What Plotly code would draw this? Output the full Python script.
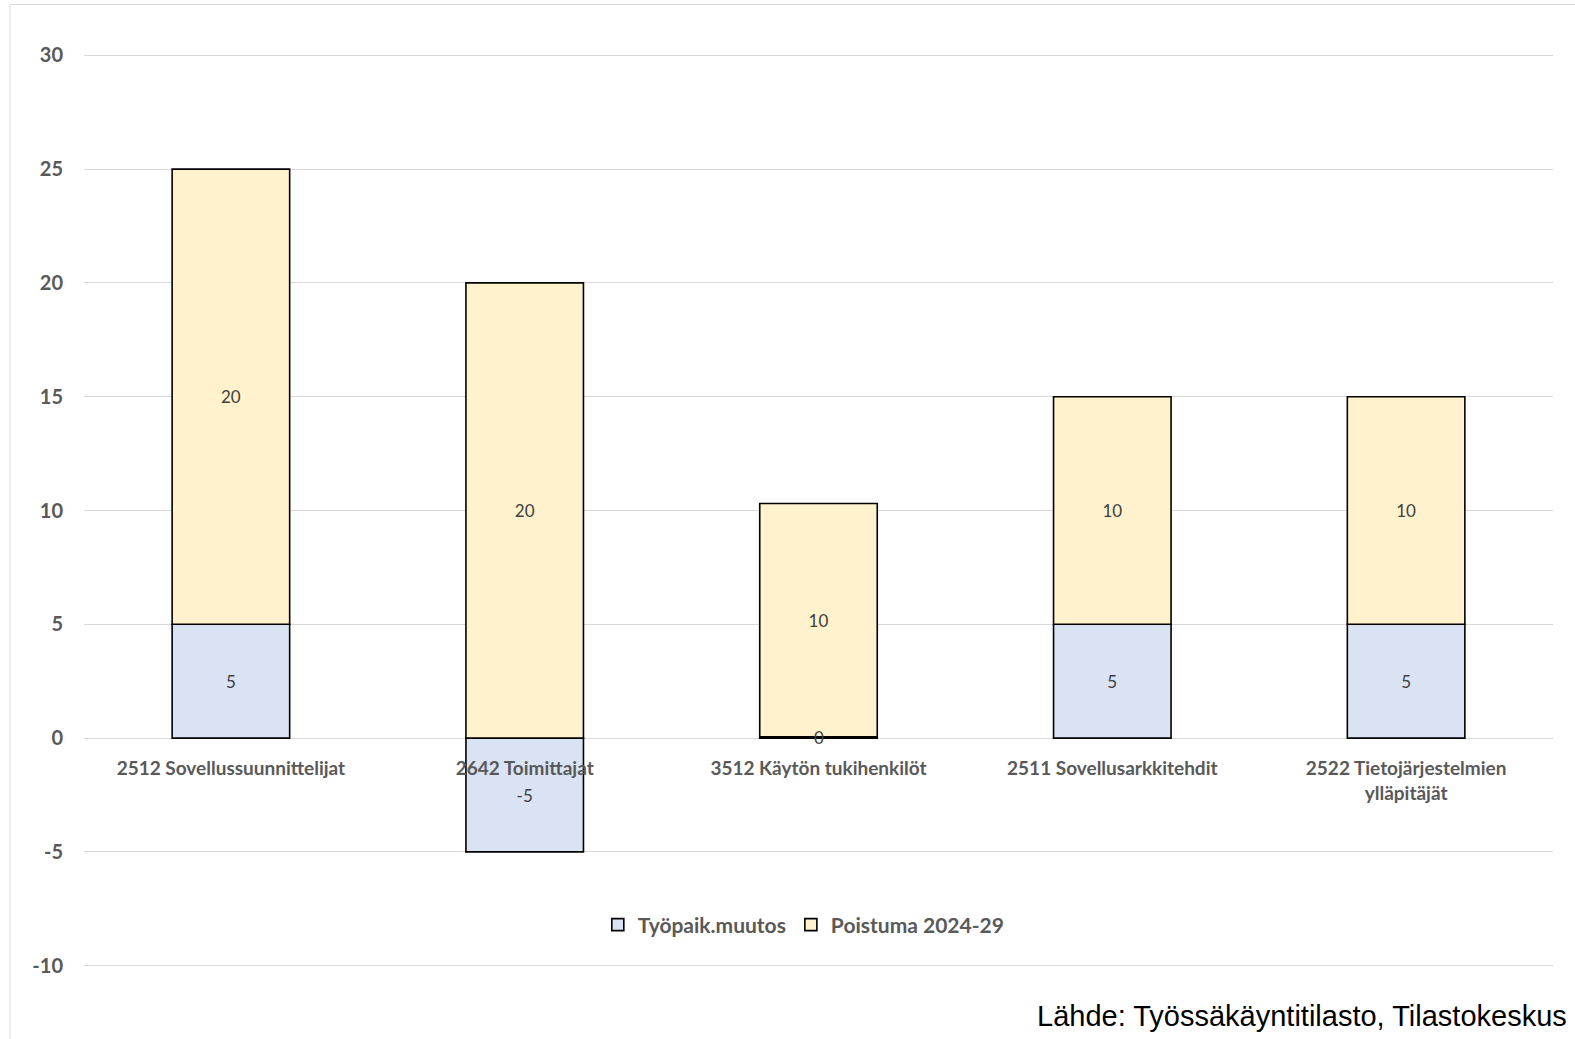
import plotly.graph_objects as go

ammatit = [
    "2512 Sovellussuunnittelijat",
    "2642 Toimittajat",
    "3512 Käytön tukihenkilöt",
    "2511 Sovellusarkkitehdit",
    "2522 Tietojärjestelmien<br>ylläpitäjät",
]
tyopaik_muutos = [5, -5, 0.06, 5, 5]
poistuma = [20, 20, 10.25, 10, 10]
y_ticks = [-10, -5, 0, 5, 10, 15, 20, 25, 30]

GRAY = "#595959"
GRID = "#D9D9D9"
W, H = 1575, 1039
L, R, T, B = 84, 22, 53, 71
PW, PH = W - L - R, H - T - B

def label(v):
    return "%d" % round(v)

fig = go.Figure()
fig.add_trace(go.Bar(
    x=ammatit, y=tyopaik_muutos, name="Työpaik.muutos",
    marker=dict(color="#DAE3F3", line=dict(color="black", width=1.6)),
    text=[label(v) if abs(v) >= 1 else "" for v in tyopaik_muutos],
    textposition="inside", insidetextanchor="middle",
    textfont=dict(family="Lato", size=17, color="#404040"),
    hoverinfo="x+y",
))
fig.add_trace(go.Bar(
    x=ammatit, y=poistuma, name="Poistuma 2024-29",
    marker=dict(color="#FFF2CC", line=dict(color="black", width=1.6)),
    text=[label(v) for v in poistuma],
    textposition="inside", insidetextanchor="middle",
    textfont=dict(family="Lato", size=17, color="#404040"),
    hoverinfo="x+y",
))

# tiny values that don't fit inside the bar
for cat, v in zip(ammatit, tyopaik_muutos):
    if abs(v) < 1:
        fig.add_annotation(x=cat, y=v / 2, text=label(v), showarrow=False,
                           font=dict(family="Lato", size=17, color="#404040"))

fig.add_annotation(
    x=(1035 - L) / PW, y=(H - B - 1016) / PH, xref="paper", yref="paper",
    xanchor="left", yanchor="middle", showarrow=False,
    text="Lähde: Työssäkäyntitilasto, Tilastokeskus",
    font=dict(family="Liberation Sans", size=29, color="black"),
)

fig.add_shape(type="rect", xref="paper", yref="paper",
              x0=(10 - L) / PW, x1=1.2,
              y0=-0.2, y1=(H - B - 4.5) / PH,
              line=dict(color=GRID, width=1), layer="below")

fig.update_layout(
    width=W, height=H,
    margin=dict(l=L, r=R, t=T, b=B),
    barmode="relative", bargap=0.6,
    plot_bgcolor="white", paper_bgcolor="white",
    font=dict(family="Lato", color=GRAY),
    showlegend=True,
    legend=dict(orientation="h", x=0.49, xanchor="center", y=(H - B - 925) / PH, yanchor="middle",
                font=dict(family="Lato", size=21, color=GRAY, weight="bold"),
                itemwidth=30, traceorder="normal"),
    xaxis=dict(
        anchor="free", position=10.1 / 40.2,
        tickfont=dict(family="Lato", size=19, color=GRAY, weight="bold"),
        showgrid=False, showline=False, ticks="",
        ticklabelstandoff=17,
    ),
    yaxis=dict(
        range=[-10.1, 30.1], tickvals=y_ticks, ticktext=[str(v) for v in y_ticks],
        tickfont=dict(family="Lato", size=20, color=GRAY, weight="bold"),
        showgrid=True, gridcolor=GRID, gridwidth=1,
        zeroline=True, zerolinecolor=GRID, zerolinewidth=1,
        ticklabelstandoff=20,
    ),
)

fig.write_html("out.html", config={"displayModeBar": False},
               post_script="document.body.style.margin='0';")
